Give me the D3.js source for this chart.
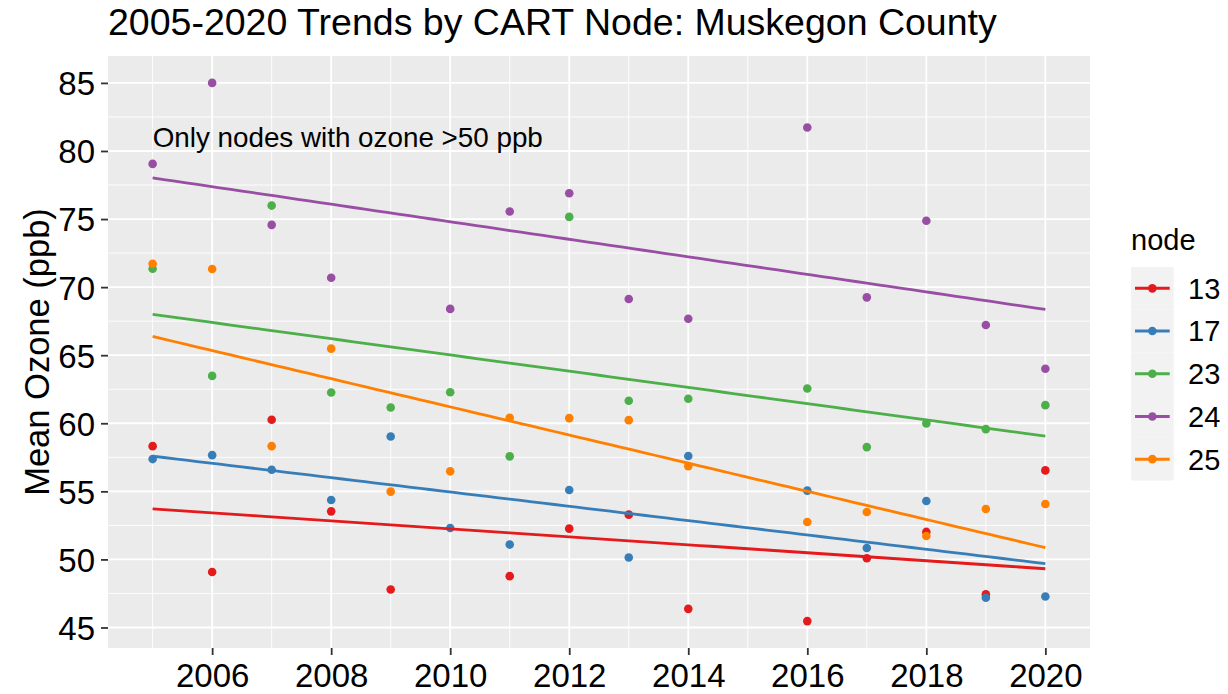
<!DOCTYPE html>
<html>
<head>
<meta charset="utf-8">
<script src="https://cdn.jsdelivr.net/npm/d3@7"></script>
<style>
  html, body { margin: 0; padding: 0; background: #ffffff; }
  svg { display: block; font-family: "Liberation Sans", Arial, Helvetica, sans-serif; }
</style>
</head>
<body>
<svg id="chart" width="1228" height="694"></svg>
<script>
// Mean ozone (ppb) by year for each CART node; null = no observation that year
const years = [2005, 2006, 2007, 2008, 2009, 2010, 2011, 2012, 2013, 2014, 2015, 2016, 2017, 2018, 2019, 2020];
const node13 = [58.32, 49.08, 60.26, 53.53, 47.79, null, 48.77, 52.26, 53.29, 46.37, null, 45.47, 50.09, 52.02, 47.43, 56.54];
const node17 = [57.37, 57.66, 56.59, 54.36, 59.03, 52.31, 51.09, 55.10, 50.14, 57.60, null, 55.05, 50.84, 54.29, 47.18, 47.28];
const node23 = [71.35, 63.48, 75.99, 62.26, 61.16, 62.28, 57.57, 75.16, 61.65, 61.80, null, 62.55, 58.25, 59.99, 59.57, 61.33];
const node24 = [79.05, 85.00, 74.57, 70.69, null, 68.40, 75.55, 76.90, 69.13, 67.68, null, 81.73, 69.25, 74.87, 67.22, 64.00];
const node25 = [71.72, 71.33, 58.32, 65.48, 54.98, 56.47, 60.40, 60.38, 60.23, 56.85, null, 52.75, 53.48, 51.72, 53.70, 54.07];

const nodeNames = ["13", "17", "23", "24", "25"];
const nodeValues = [node13, node17, node23, node24, node25];
const nodeColors = ["#E41A1C", "#377EB8", "#4DAF4A", "#984EA3", "#FF7F00"];

const xTicks = [2006, 2008, 2010, 2012, 2014, 2016, 2018, 2020];
const xMinor = [2005, 2007, 2009, 2011, 2013, 2015, 2017, 2019];
const yTicks = [45, 50, 55, 60, 65, 70, 75, 80, 85];
const yMinor = [47.5, 52.5, 57.5, 62.5, 67.5, 72.5, 77.5, 82.5];

const titleText = "2005-2020 Trends by CART Node: Muskegon County";
const yLabel = "Mean Ozone (ppb)";
const noteText = "Only nodes with ozone >50 ppb";
const notePos = { year: 2005, value: 81 };
const legendTitle = "node";

const series = nodeNames.map((name, i) => ({
  name,
  color: nodeColors[i],
  points: years.map((y, j) => ({ year: y, value: nodeValues[i][j] })).filter(d => d.value != null)
}));

// Ordinary least-squares fit per node (the lm trend line)
function linearFit(pts) {
  const mx = d3.mean(pts, d => d.year), my = d3.mean(pts, d => d.value);
  let sxy = 0, sxx = 0;
  pts.forEach(d => { sxy += (d.year - mx) * (d.value - my); sxx += (d.year - mx) ** 2; });
  const slope = sxy / sxx, icpt = my - slope * mx;
  const [x0, x1] = d3.extent(pts, d => d.year);
  return d3.range(0, 81).map(k => {
    const xv = x0 + (x1 - x0) * k / 80;
    return { year: xv, value: icpt + slope * xv };
  });
}

const svg = d3.select("#chart");
const P = { left: 108, right: 1090, top: 56, bottom: 648 };

// data range with 5% expansion on each side
const allPts = series.flatMap(s => s.points);
const xExt = d3.extent(allPts, d => d.year);
const yExt = d3.extent(allPts, d => d.value);
const xPad = (xExt[1] - xExt[0]) * 0.05, yPad = (yExt[1] - yExt[0]) * 0.05;

const x = d3.scaleLinear().domain([xExt[0] - xPad, xExt[1] + xPad]).range([P.left, P.right]);
const y = d3.scaleLinear().domain([yExt[0] - yPad, yExt[1] + yPad]).range([P.bottom, P.top]);

// panel background
svg.append("rect")
  .attr("x", P.left).attr("y", P.top)
  .attr("width", P.right - P.left).attr("height", P.bottom - P.top)
  .attr("fill", "#EBEBEB");

const grid = svg.append("g");
grid.selectAll(".ymin").data(yMinor).join("line")
  .attr("x1", P.left).attr("x2", P.right)
  .attr("y1", d => y(d)).attr("y2", d => y(d))
  .attr("stroke", "#fff").attr("stroke-width", 0.9);
grid.selectAll(".xmin").data(xMinor).join("line")
  .attr("y1", P.top).attr("y2", P.bottom)
  .attr("x1", d => x(d)).attr("x2", d => x(d))
  .attr("stroke", "#fff").attr("stroke-width", 0.9);
grid.selectAll(".ymaj").data(yTicks).join("line")
  .attr("x1", P.left).attr("x2", P.right)
  .attr("y1", d => y(d)).attr("y2", d => y(d))
  .attr("stroke", "#fff").attr("stroke-width", 1.8);
grid.selectAll(".xmaj").data(xTicks).join("line")
  .attr("y1", P.top).attr("y2", P.bottom)
  .attr("x1", d => x(d)).attr("x2", d => x(d))
  .attr("stroke", "#fff").attr("stroke-width", 1.8);

// axes
const xAxis = svg.append("g")
  .attr("transform", `translate(0,${P.bottom})`)
  .call(d3.axisBottom(x).tickValues(xTicks).tickFormat(d3.format("d")).tickSize(7).tickPadding(9));
const yAxis = svg.append("g")
  .attr("transform", `translate(${P.left},0)`)
  .call(d3.axisLeft(y).tickValues(yTicks).tickSize(7).tickPadding(6));
[xAxis, yAxis].forEach(g => {
  g.select(".domain").remove();
  g.selectAll(".tick line").attr("stroke", "#333333").attr("stroke-width", 1.8);
  g.selectAll(".tick text").attr("fill", "#000").style("font-size", "33px")
    .style("font-family", "'Liberation Sans', Arial, sans-serif");
});
yAxis.selectAll(".tick text").attr("dy", "0.36em");
xAxis.selectAll(".tick text").attr("dy", "0.70em");

// points, drawn node by node
const pts = svg.append("g");
series.forEach(s => {
  pts.selectAll(null).data(s.points).join("circle")
    .attr("cx", d => x(d.year)).attr("cy", d => y(d.value))
    .attr("r", 4.3).attr("fill", s.color);
});

// linear trend lines
const line = d3.line().x(d => x(d.year)).y(d => y(d.value));
const lines = svg.append("g");
series.forEach(s => {
  lines.append("path")
    .attr("d", line(linearFit(s.points)))
    .attr("fill", "none").attr("stroke", s.color).attr("stroke-width", 2.8);
});

// annotation
svg.append("text")
  .attr("x", x(notePos.year)).attr("y", y(notePos.value)).attr("dy", "0.36em")
  .style("font-size", "27.8px").attr("fill", "#000")
  .text(noteText);

// title
svg.append("text")
  .attr("x", P.left).attr("y", 35)
  .style("font-size", "37.5px").attr("fill", "#000")
  .text(titleText);

// y axis title
svg.append("text")
  .attr("transform", `translate(49,${(P.top + P.bottom) / 2}) rotate(-90)`)
  .attr("text-anchor", "middle")
  .style("font-size", "34.5px").attr("fill", "#000")
  .text(yLabel);

// legend
const L = { x: 1131, y: 267, key: 42.7 };
const legend = svg.append("g");
legend.append("text")
  .attr("x", L.x).attr("y", 250)
  .style("font-size", "29px").attr("fill", "#000")
  .text(legendTitle);
series.forEach((s, i) => {
  const cy = L.y + L.key * i + L.key / 2;
  legend.append("rect")
    .attr("x", L.x).attr("y", L.y + L.key * i)
    .attr("width", L.key).attr("height", L.key)
    .attr("fill", "#F2F2F2");
  legend.append("line")
    .attr("x1", L.x + 4).attr("x2", L.x + L.key - 4)
    .attr("y1", cy).attr("y2", cy)
    .attr("stroke", s.color).attr("stroke-width", 3);
  legend.append("circle")
    .attr("cx", L.x + L.key / 2).attr("cy", cy).attr("r", 4.3).attr("fill", s.color);
  legend.append("text")
    .attr("x", 1188).attr("y", cy).attr("dy", "0.36em")
    .style("font-size", "29px").attr("fill", "#000")
    .text(s.name);
});
</script>
</body>
</html>
